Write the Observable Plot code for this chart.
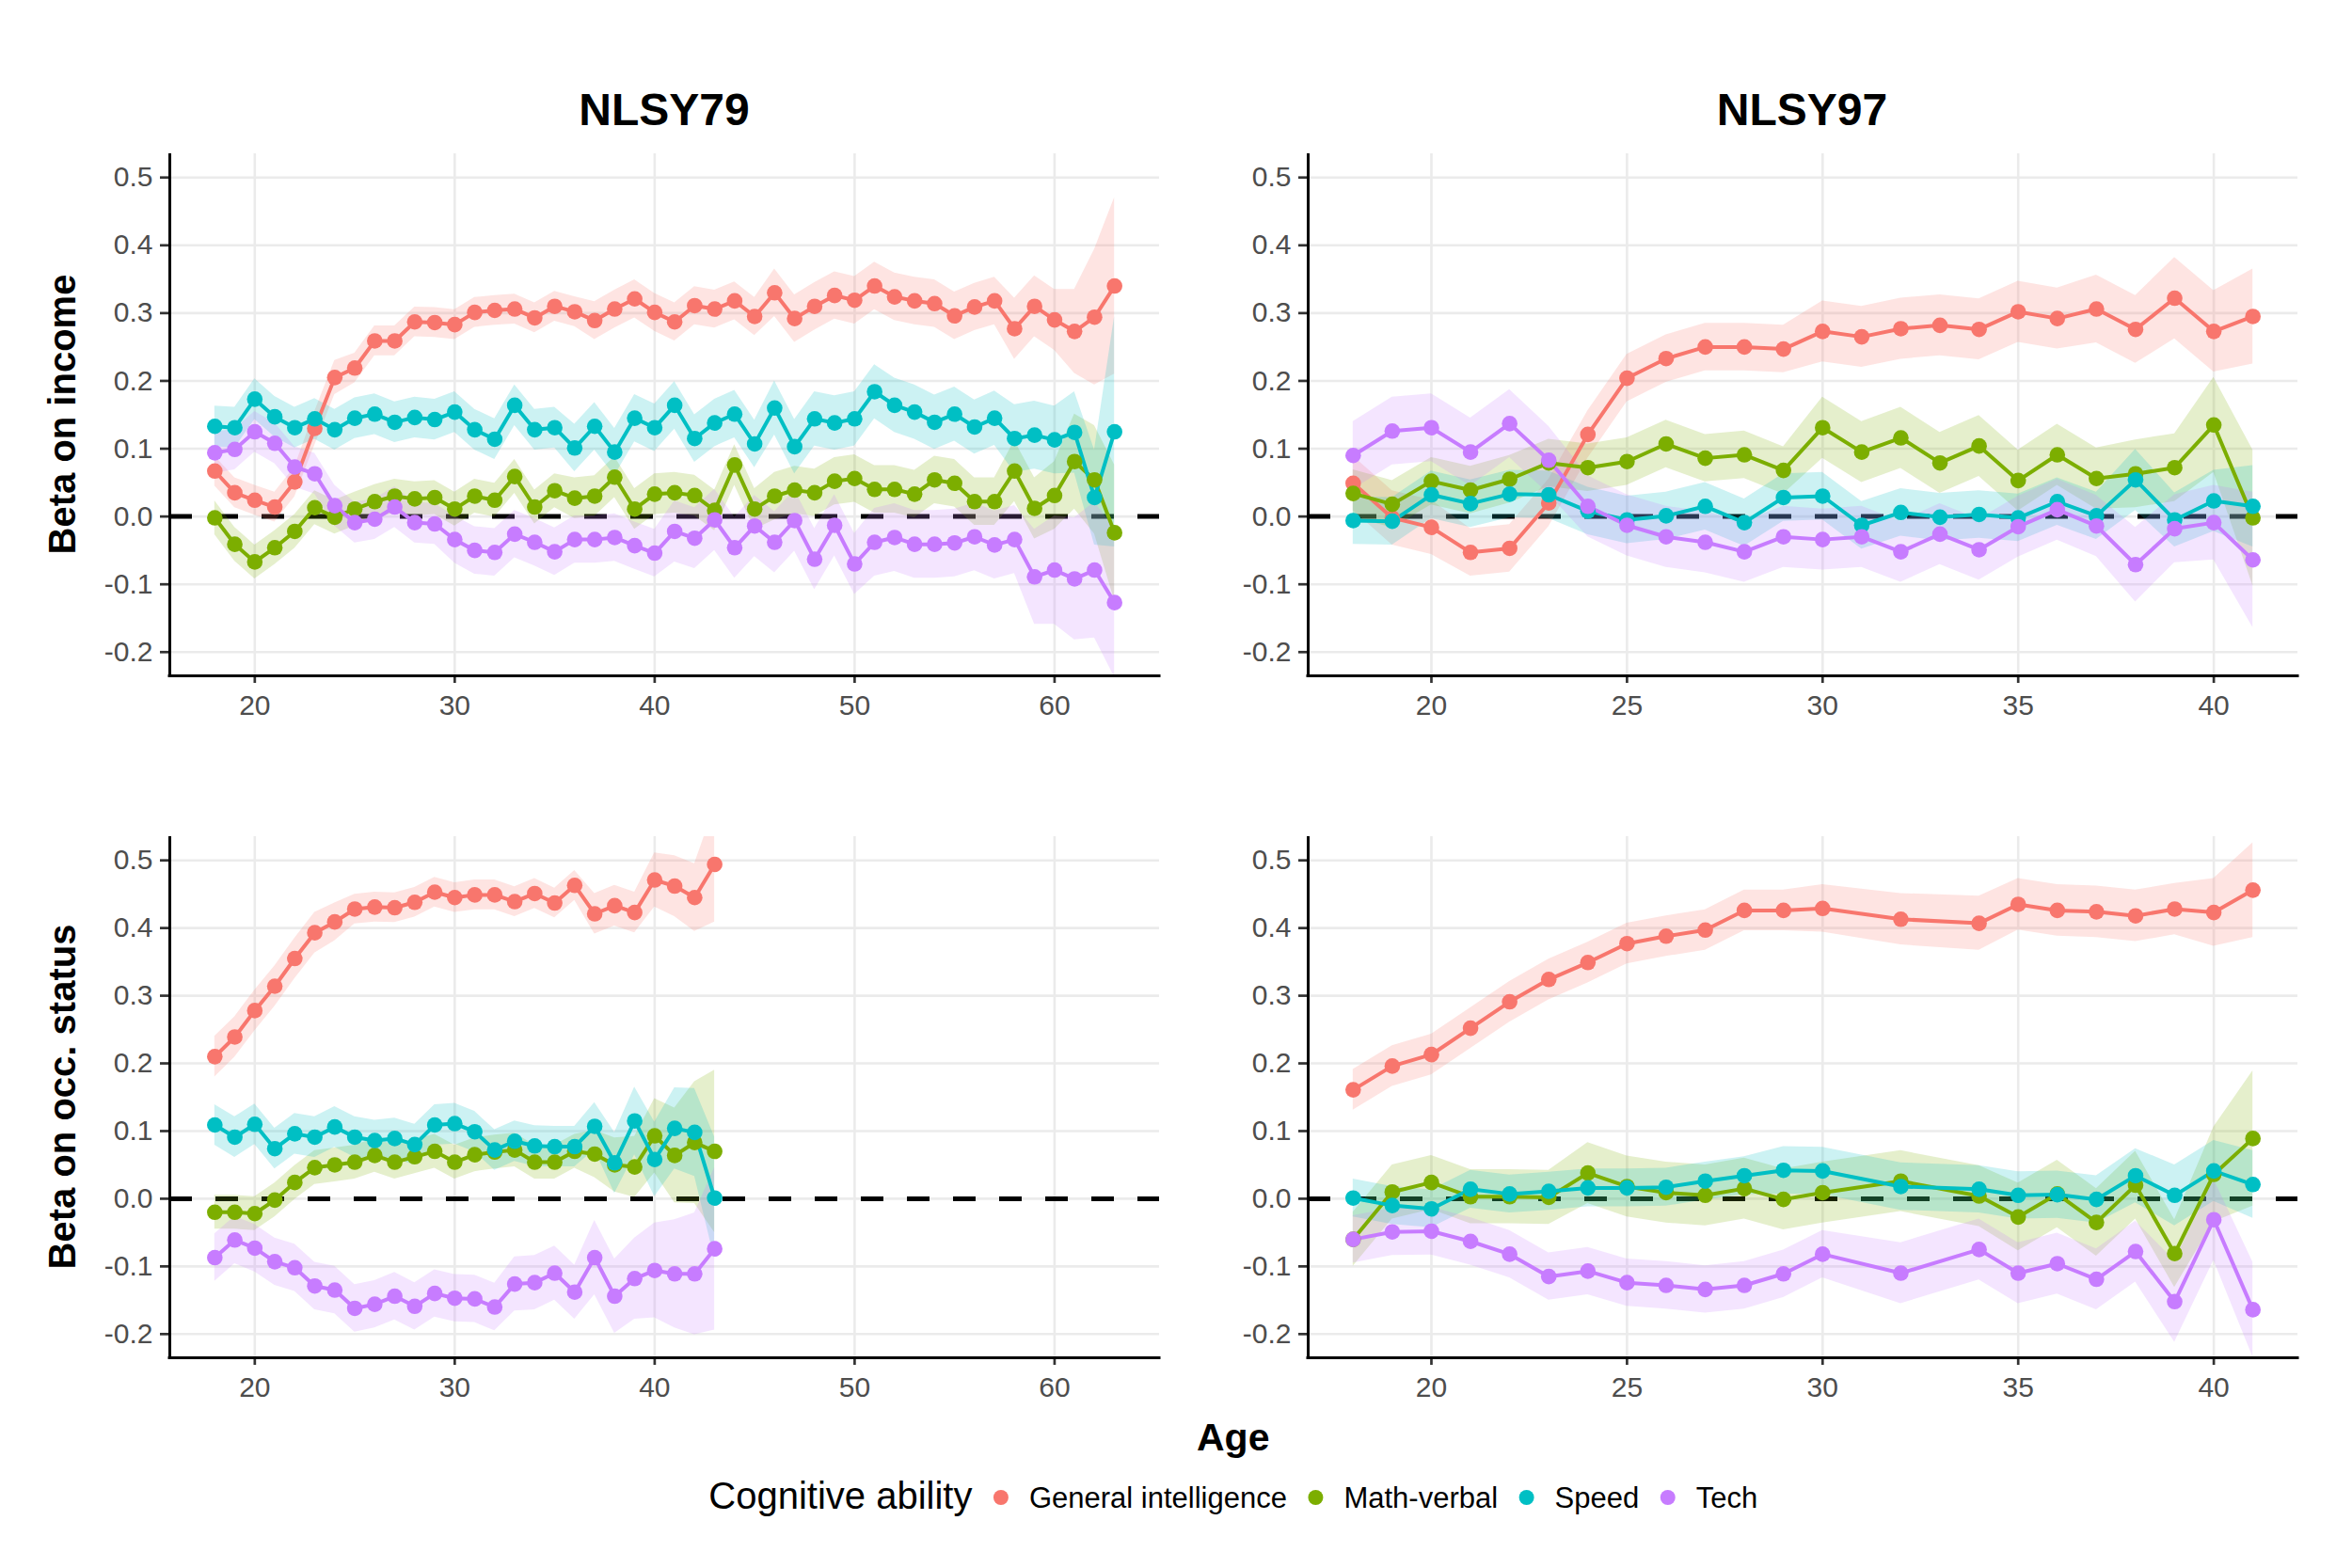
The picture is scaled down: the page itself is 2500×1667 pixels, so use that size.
<!DOCTYPE html>
<html>
<head>
<meta charset="utf-8">
<script src="https://cdn.jsdelivr.net/npm/d3@7"></script>
<script src="https://cdn.jsdelivr.net/npm/@observablehq/plot@0.6"></script>
<style>
  html, body { margin: 0; padding: 0; background: #ffffff; }
  #root { position: relative; width: 2500px; height: 1667px; overflow: hidden; background: #ffffff;
          font-family: "Liberation Sans", Arial, Helvetica, sans-serif; }
  #root svg { position: absolute; }
</style>
</head>
<body>
<div id="root"></div>
<script>
// ---------------- DATA ----------------
const abilities = ["General intelligence", "Math-verbal", "Speed", "Tech"];
const abilityColors = ["#F8766D", "#7CAE00", "#00BFC4", "#C77CFF"];
const yTicks = [-0.2, -0.1, 0, 0.1, 0.2, 0.3, 0.4, 0.5];
const xTicks79 = [20, 30, 40, 50, 60];
const xTicks97 = [20, 25, 30, 35, 40];
const columnTitles = ["NLSY79", "NLSY97"];
const rowTitles = ["Beta on income", "Beta on occ. status"];
const xTitle = "Age";
const legendTitle = "Cognitive ability";

// NLSY79, income (ages 18-63)
const ages79Income = [18,19,20,21,22,23,24,25,26,27,28,29,30,31,32,33,34,35,36,37,38,39,40,41,42,43,44,45,46,47,48,49,50,51,52,53,54,55,56,57,58,59,60,61,62,63];
const gi79Income = [0.067,0.035,0.024,0.014,0.051,0.130,0.205,0.219,0.259,0.259,
  0.287,0.286,0.283,0.301,0.304,0.306,0.293,0.310,0.302,0.289,
  0.306,0.321,0.301,0.287,0.311,0.306,0.318,0.295,0.330,0.292,
  0.310,0.326,0.319,0.340,0.324,0.318,0.314,0.296,0.309,0.318,
  0.277,0.310,0.290,0.273,0.294,0.340];
const giHw79Income = [0.022,0.022,0.022,0.022,0.022,0.025,0.025,0.022,0.022,0.022,
  0.022,0.022,0.022,0.022,0.022,0.022,0.022,0.022,0.022,0.028,
  0.028,0.028,0.028,0.028,0.028,0.028,0.028,0.028,0.035,0.035,
  0.035,0.035,0.035,0.035,0.035,0.035,0.035,0.035,0.035,0.035,
  0.045,0.045,0.045,0.062,0.100,0.130];
const mv79Income = [-0.002,-0.041,-0.067,-0.046,-0.022,0.013,-0.001,0.011,0.022,0.030,
  0.026,0.028,0.011,0.030,0.024,0.059,0.014,0.038,0.027,0.030,
  0.058,0.011,0.033,0.035,0.031,0.009,0.076,0.011,0.030,0.039,
  0.035,0.052,0.056,0.040,0.040,0.033,0.054,0.049,0.022,0.022,
  0.067,0.012,0.031,0.081,0.054,-0.024];
const mvHw79Income = [0.025,0.025,0.025,0.025,0.025,0.025,0.025,0.025,0.025,0.025,
  0.025,0.025,0.025,0.025,0.025,0.025,0.025,0.025,0.030,0.030,
  0.030,0.030,0.030,0.030,0.030,0.030,0.030,0.030,0.035,0.035,
  0.035,0.035,0.035,0.035,0.035,0.035,0.035,0.035,0.035,0.035,
  0.045,0.045,0.050,0.070,0.080,0.100];
const sp79Income = [0.133,0.131,0.173,0.147,0.131,0.144,0.128,0.145,0.151,0.139,
  0.146,0.143,0.154,0.128,0.114,0.164,0.128,0.131,0.101,0.133,
  0.095,0.145,0.131,0.164,0.115,0.138,0.151,0.107,0.160,0.103,
  0.144,0.138,0.144,0.184,0.164,0.154,0.139,0.151,0.132,0.145,
  0.115,0.120,0.113,0.124,0.028,0.125];
const spHw79Income = [0.030,0.030,0.030,0.030,0.030,0.030,0.030,0.030,0.030,0.030,
  0.030,0.030,0.030,0.030,0.030,0.030,0.030,0.030,0.035,0.035,
  0.035,0.035,0.035,0.035,0.035,0.035,0.035,0.035,0.040,0.040,
  0.040,0.040,0.040,0.040,0.040,0.040,0.040,0.040,0.040,0.040,
  0.050,0.050,0.050,0.060,0.070,0.170];
const te79Income = [0.094,0.099,0.125,0.108,0.073,0.063,0.016,-0.009,-0.004,0.014,
  -0.009,-0.011,-0.034,-0.050,-0.053,-0.026,-0.038,-0.052,-0.034,-0.034,
  -0.031,-0.043,-0.054,-0.022,-0.032,-0.005,-0.046,-0.014,-0.038,-0.006,
  -0.063,-0.013,-0.070,-0.038,-0.031,-0.041,-0.041,-0.039,-0.030,-0.042,
  -0.034,-0.089,-0.079,-0.092,-0.079,-0.127];
const teHw79Income = [0.030,0.030,0.030,0.030,0.030,0.030,0.030,0.030,0.030,0.030,
  0.030,0.030,0.035,0.035,0.035,0.035,0.035,0.035,0.035,0.035,
  0.035,0.035,0.035,0.045,0.045,0.045,0.045,0.045,0.045,0.045,
  0.045,0.045,0.045,0.050,0.050,0.050,0.050,0.050,0.050,0.050,
  0.050,0.070,0.080,0.090,0.100,0.110];

// NLSY97, income (ages 18-41)
const ages97Income = [18,19,20,21,22,23,24,25,26,27,28,29,30,31,32,33,34,35,36,37,38,39,40,41];
const gi97Income = [0.049,-0.002,-0.016,-0.053,-0.047,0.020,0.121,0.204,0.233,0.250,
  0.250,0.247,0.273,0.265,0.277,0.282,0.276,0.302,0.292,0.306,
  0.276,0.322,0.273,0.295];
const giHw97Income = [0.040,0.040,0.040,0.035,0.035,0.035,0.035,0.035,0.035,0.035,
  0.035,0.035,0.045,0.045,0.045,0.045,0.045,0.045,0.045,0.050,
  0.050,0.060,0.060,0.070];
const mv97Income = [0.034,0.018,0.052,0.039,0.055,0.079,0.072,0.081,0.107,0.086,
  0.091,0.068,0.131,0.095,0.116,0.079,0.104,0.053,0.091,0.056,
  0.063,0.072,0.135,-0.002];
const mvHw97Income = [0.035,0.035,0.035,0.035,0.035,0.035,0.035,0.035,0.035,0.035,
  0.035,0.035,0.045,0.045,0.045,0.045,0.045,0.045,0.045,0.045,
  0.050,0.050,0.070,0.100];
const sp97Income = [-0.006,-0.007,0.032,0.019,0.033,0.032,0.008,-0.005,0.001,0.015,
  -0.009,0.028,0.030,-0.013,0.006,-0.001,0.003,-0.002,0.022,0.001,
  0.054,-0.005,0.023,0.015];
const spHw97Income = [0.035,0.035,0.035,0.035,0.035,0.035,0.035,0.035,0.035,0.035,
  0.035,0.035,0.035,0.035,0.035,0.035,0.035,0.035,0.035,0.035,
  0.045,0.040,0.045,0.060];
const te97Income = [0.090,0.126,0.131,0.095,0.137,0.083,0.015,-0.013,-0.030,-0.038,
  -0.052,-0.030,-0.034,-0.030,-0.052,-0.026,-0.049,-0.015,0.010,-0.014,
  -0.071,-0.018,-0.009,-0.064];
const teHw97Income = [0.050,0.050,0.050,0.050,0.050,0.050,0.045,0.045,0.045,0.045,
  0.045,0.045,0.045,0.045,0.045,0.045,0.045,0.045,0.045,0.045,
  0.055,0.050,0.055,0.100];

// NLSY79, occupational status (ages 18-43)
const ages79Occ = [18,19,20,21,22,23,24,25,26,27,28,29,30,31,32,33,34,35,36,37,38,39,40,41,42,43];
const gi79Occ = [0.210,0.239,0.278,0.314,0.355,0.393,0.409,0.428,0.431,0.430,
  0.438,0.453,0.445,0.449,0.449,0.439,0.451,0.437,0.463,0.421,
  0.433,0.423,0.471,0.462,0.445,0.494];
const giHw79Occ = [0.030,0.030,0.030,0.030,0.030,0.030,0.028,0.022,0.022,0.022,
  0.022,0.022,0.022,0.022,0.022,0.022,0.022,0.022,0.022,0.030,
  0.030,0.030,0.040,0.045,0.050,0.085];
const mv79Occ = [-0.020,-0.020,-0.022,-0.002,0.024,0.046,0.050,0.054,0.064,0.054,
  0.062,0.070,0.054,0.065,0.069,0.072,0.054,0.054,0.070,0.066,
  0.050,0.047,0.093,0.064,0.083,0.070];
const mvHw79Occ = [0.025,0.025,0.025,0.025,0.025,0.025,0.025,0.025,0.025,0.025,
  0.025,0.025,0.025,0.025,0.025,0.025,0.025,0.025,0.025,0.035,
  0.040,0.045,0.055,0.070,0.090,0.120];
const sp79Occ = [0.109,0.091,0.110,0.074,0.096,0.091,0.106,0.091,0.086,0.089,
  0.080,0.109,0.111,0.099,0.072,0.085,0.078,0.077,0.077,0.107,
  0.053,0.115,0.058,0.104,0.098,0.001];
const spHw79Occ = [0.030,0.030,0.030,0.030,0.030,0.030,0.030,0.030,0.030,0.030,
  0.030,0.030,0.030,0.030,0.030,0.030,0.030,0.030,0.030,0.035,
  0.045,0.050,0.055,0.060,0.065,0.090];
const te79Occ = [-0.087,-0.061,-0.073,-0.093,-0.102,-0.129,-0.135,-0.162,-0.156,-0.144,
  -0.159,-0.140,-0.147,-0.148,-0.160,-0.126,-0.124,-0.110,-0.138,-0.087,
  -0.144,-0.118,-0.106,-0.111,-0.111,-0.074];
const teHw79Occ = [0.035,0.035,0.035,0.035,0.035,0.035,0.035,0.035,0.035,0.035,
  0.035,0.035,0.035,0.035,0.035,0.040,0.040,0.040,0.040,0.055,
  0.055,0.060,0.070,0.080,0.090,0.120];

// NLSY97, occupational status (ages 18-41, no 31 or 33)
const ages97Occ = [18,19,20,21,22,23,24,25,26,27,28,29,30,32,34,35,36,37,38,39,40,41];
const gi97Occ = [0.161,0.196,0.213,0.252,0.291,0.324,0.349,0.377,0.388,0.397,0.426,
  0.426,0.429,0.413,0.407,0.435,0.426,0.424,0.418,0.428,0.423,0.456];
const giHw97Occ = [0.030,0.030,0.030,0.030,0.030,0.030,0.030,0.030,0.030,0.030,0.030,
  0.030,0.035,0.038,0.040,0.038,0.038,0.038,0.038,0.038,0.050,0.070];
const mv97Occ = [-0.060,0.010,0.024,0.003,0.003,0.002,0.038,0.018,0.009,0.005,0.015,
  -0.001,0.009,0.026,0.004,-0.027,0.007,-0.035,0.020,-0.081,0.036,0.089];
const mvHw97Occ = [0.040,0.040,0.040,0.040,0.040,0.040,0.045,0.045,0.045,0.045,0.045,
  0.045,0.045,0.045,0.045,0.050,0.050,0.050,0.050,0.050,0.070,0.100];
const sp97Occ = [0.001,-0.010,-0.015,0.014,0.007,0.011,0.016,0.016,0.017,0.026,0.034,
  0.042,0.041,0.018,0.014,0.005,0.006,-0.001,0.034,0.005,0.041,0.021];
const spHw97Occ = [0.028,0.028,0.028,0.028,0.028,0.028,0.028,0.028,0.028,0.028,0.028,
  0.035,0.035,0.035,0.035,0.035,0.035,0.035,0.040,0.045,0.045,0.050];
const te97Occ = [-0.060,-0.049,-0.048,-0.063,-0.082,-0.115,-0.107,-0.124,-0.128,-0.134,-0.128,
  -0.111,-0.082,-0.110,-0.075,-0.110,-0.096,-0.119,-0.078,-0.152,-0.031,-0.164];
const teHw97Occ = [0.035,0.035,0.035,0.035,0.035,0.035,0.035,0.035,0.035,0.035,0.035,
  0.035,0.035,0.045,0.045,0.045,0.045,0.045,0.045,0.060,0.060,0.070];

// ---------------- LAYOUT ----------------
const FONT = '"Liberation Sans", Arial, Helvetica, sans-serif';
const yDomain = [-0.235, 0.535];
const root = document.getElementById("root");

function buildRows(ages, ests, hws) {
  const rows = [];
  abilities.forEach((ab, i) => {
    ages.forEach((a, j) => {
      rows.push({age: a, ability: ab, est: ests[i][j], lo: ests[i][j] - hws[i][j], hi: ests[i][j] + hws[i][j]});
    });
  });
  return rows;
}

function panel({ages, ests, hws, xDomain, xTicks, x0, x1, y0, y1}) {
  const mL = 120, mR = 20, mT = 10, mB = 60;
  const data = buildRows(ages, ests, hws);
  const chart = Plot.plot({
    width: (x1 - x0) + mL + mR,
    height: (y1 - y0) + mT + mB,
    marginLeft: mL, marginRight: mR, marginTop: mT, marginBottom: mB,
    style: {fontFamily: FONT, fontSize: "30px", background: "transparent", overflow: "visible"},
    x: {domain: xDomain},
    y: {domain: yDomain},
    color: {domain: abilities, range: abilityColors},
    marks: [
      Plot.gridX(xTicks, {stroke: "#EBEBEB", strokeOpacity: 1, strokeWidth: 2.6}),
      Plot.gridY(yTicks, {stroke: "#EBEBEB", strokeOpacity: 1, strokeWidth: 2.6}),
      Plot.ruleY([0], {stroke: "#000000", strokeWidth: 5, strokeDasharray: "24 25"}),
      Plot.areaY(data, {x: "age", y1: "lo", y2: "hi", z: "ability", fill: "ability", fillOpacity: 0.2, clip: true}),
      Plot.line(data, {x: "age", y: "est", z: "ability", stroke: "ability", strokeWidth: 4, clip: true}),
      Plot.dot(data, {x: "age", y: "est", fill: "ability", r: 8.3, stroke: null}),
      Plot.axisX(xTicks, {tickSize: 8, tickPadding: 12, fontSize: 30, color: "#4D4D4D", stroke: "#333333", strokeWidth: 2.7, label: null}),
      Plot.axisY(yTicks, {tickSize: 10, tickPadding: 8, fontSize: 30, color: "#4D4D4D", stroke: "#333333", strokeWidth: 2.7, label: null,
                          tickFormat: d => d.toFixed(1)}),
      Plot.ruleX([xDomain[0]], {stroke: "#000000", strokeWidth: 3}),
      Plot.ruleY([yDomain[0]], {stroke: "#000000", strokeWidth: 3, strokeLinecap: "square"})
    ]
  });
  chart.style.left = (x0 - mL) + "px";
  chart.style.top = (y0 - mT) + "px";
  root.appendChild(chart);
}

const colL = {x0: 180, x1: 1232, xDomain: [15.75, 65.25], xTicks: xTicks79};
const colR = {x0: 1389.5, x1: 2441.5, xDomain: [16.85, 42.15], xTicks: xTicks97};
const rowT = {y0: 163, y1: 718};
const rowB = {y0: 889, y1: 1443};

panel({...colL, ...rowT, ages: ages79Income,
  ests: [gi79Income, mv79Income, sp79Income, te79Income],
  hws: [giHw79Income, mvHw79Income, spHw79Income, teHw79Income]});
panel({...colR, ...rowT, ages: ages97Income,
  ests: [gi97Income, mv97Income, sp97Income, te97Income],
  hws: [giHw97Income, mvHw97Income, spHw97Income, teHw97Income]});
panel({...colL, ...rowB, ages: ages79Occ,
  ests: [gi79Occ, mv79Occ, sp79Occ, te79Occ],
  hws: [giHw79Occ, mvHw79Occ, spHw79Occ, teHw79Occ]});
panel({...colR, ...rowB, ages: ages97Occ,
  ests: [gi97Occ, mv97Occ, sp97Occ, te97Occ],
  hws: [giHw97Occ, mvHw97Occ, spHw97Occ, teHw97Occ]});

// ---------------- TEXT OVERLAY ----------------
const svg = d3.select(root).append("svg")
  .attr("width", 2500).attr("height", 1667)
  .style("left", "0px").style("top", "0px")
  .style("pointer-events", "none")
  .attr("font-family", FONT);

[colL, colR].forEach((c, i) => {
  svg.append("text").text(columnTitles[i])
    .attr("x", (c.x0 + c.x1) / 2).attr("y", 133)
    .attr("text-anchor", "middle").attr("font-weight", "bold").attr("font-size", 48).attr("fill", "#000");
});
[rowT, rowB].forEach((r, i) => {
  svg.append("text").text(rowTitles[i])
    .attr("transform", `translate(80,${(r.y0 + r.y1) / 2}) rotate(-90)`)
    .attr("text-anchor", "middle").attr("font-weight", "bold").attr("font-size", 40).attr("fill", "#000");
});
const plotCenter = (colL.x0 + colR.x1) / 2;
svg.append("text").text(xTitle)
  .attr("x", plotCenter).attr("y", 1542)
  .attr("text-anchor", "middle").attr("font-weight", "bold").attr("font-size", 41).attr("fill", "#000");

// legend
const lg = svg.append("g");
let cx = 0;
const tTitle = lg.append("text").text(legendTitle).attr("x", 0).attr("y", 1604)
  .attr("font-size", 40).attr("fill", "#000");
cx = tTitle.node().getComputedTextLength();
abilities.forEach((ab, i) => {
  cx += 30.5;
  lg.append("circle").attr("cx", cx).attr("cy", 1592).attr("r", 8).attr("fill", abilityColors[i]);
  cx += 30;
  const t = lg.append("text").text(ab).attr("x", cx).attr("y", 1602.5)
    .attr("font-size", 31).attr("fill", "#000");
  cx += t.node().getComputedTextLength();
});
lg.attr("transform", `translate(${plotCenter - cx / 2},0)`);
</script>
</body>
</html>
